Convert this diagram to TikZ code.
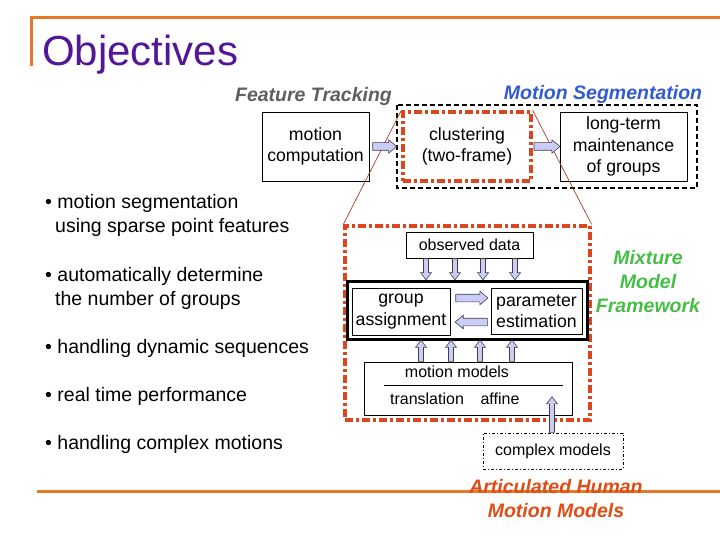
\documentclass[tikz,border=0pt]{standalone}
\usepackage{fontspec}
\setmainfont{Liberation Sans}
\usepackage{tikz}
\usetikzlibrary{shapes.arrows,arrows.meta,positioning,calc}
\definecolor{orangeTrait}{RGB}{230,120,40}
\definecolor{violetTitre}{RGB}{82,22,150}
\definecolor{grisFT}{RGB}{95,95,95}
\definecolor{bleuMS}{RGB}{50,90,210}
\definecolor{vertMM}{RGB}{70,190,70}
\definecolor{rougeAH}{RGB}{225,75,20}
\definecolor{rougeZoom}{RGB}{220,70,30}
\definecolor{rougeFil}{RGB}{170,60,40}
\definecolor{lavande}{RGB}{204,204,250}
\newcommand{\fsz}[2]{\fontsize{#1}{#2}\selectfont}

\begin{document}
\begin{tikzpicture}[x=1pt,y=-1pt,
  boite/.style={draw,line width=0.8pt,align=center,inner sep=0pt,font=\fsz{17.7}{21.5}},
  petit/.style={font=\fsz{16}{19}},
  puce/.style={align=left,inner sep=0pt,font=\fsz{19.5}{24}},
  titreItal/.style={align=center,inner sep=0pt,font=\fsz{19.5}{24}\bfseries\itshape},
  zoomRouge/.style={draw=rougeZoom,line width=3.3pt,dash pattern=on 8pt off 3pt on 3pt off 3pt},
  blockarrow/.style={single arrow,draw=black!75,fill=lavande,line width=0.6pt,
    inner xsep=0pt,inner ysep=3.5pt,single arrow head extend=3pt,
    single arrow tip angle=80,single arrow head indent=0pt},
  petiteFleche/.style={blockarrow/.append style={inner ysep=2.2pt,single arrow head extend=3pt,
    single arrow tip angle=75}},
  fleche/.style={to path={let \p1=(\tikztostart), \p2=(\tikztotarget),
    \n1={veclen(\x2-\x1,\y2-\y1)}, \n2={atan2(\y2-\y1,\x2-\x1)} in
    node[blockarrow,minimum height=\n1,rotate=\n2,anchor=tail] at (\p1) {} (\tikztotarget)}}]
  \useasboundingbox (0,0) rectangle (720,540);

  % Titre
  \draw[orangeTrait,line width=3pt] (31,66) -- (31,18) -- (720,18);
  \node[anchor=base west,inner sep=0pt,text=violetTitre,font=\fsz{42}{48}] (titre) at (42,66) {Objectives};
  \draw[orangeTrait,line width=3pt] (37,491) -- (720,491);

  % Objectifs (base = derniere ligne)
  \foreach \n/\y/\t in {1/233/{• motion segmentation\\\hspace*{10pt}using sparse point features},
                        2/305/{• automatically determine\\\hspace*{10pt}the number of groups},
                        3/353/{• handling dynamic sequences},
                        4/401/{• real time performance},
                        5/449/{• handling complex motions}}
    \node[puce,anchor=base west] (b\n) at (45,\y) {\t};

  % Chaine de traitement
  \node[titreItal,text=grisFT] (ft) at (313.5,96) {Feature Tracking};
  \node[titreItal,text=bleuMS] (ms) at (603,94) {Motion Segmentation};
  \draw[line width=1.4pt,dash pattern=on 5pt off 3pt] (397,105) rectangle (697,188);
  \node[boite,minimum width=107,minimum height=69] (mc) at (315.5,146.5) {motion\\computation};
  \node[boite,zoomRouge,minimum width=128,minimum height=69] (cl) at (467,146.5) {clustering\\(two-frame)};
  \node[boite,minimum width=127,minimum height=69] (lt) at (623.5,146.5) {long-term\\maintenance\\of groups};

  % Zoom
  \node[zoomRouge,minimum width=245,minimum height=194] (zoom) at (467.5,323) {};
  \draw[rougeFil,line width=0.7pt] (cl.north west) -- (zoom.north west)
                                   (cl.north east) -- (zoom.north east);
  \path[fleche] ([xshift=3]mc.east) to ([xshift=-5]cl.west);
  \path[fleche] ([xshift=1]cl.east) to (lt.west);

  % Modele de melange
  \node[boite,petit,minimum width=127,minimum height=26] (obs) at (469.5,245) {observed data};
  \node[draw,line width=3pt,minimum width=240,minimum height=58] (core) at (467,310) {};
  \node[boite,minimum width=98,minimum height=47] (ga) at (401,311.5) {group\\assignment};
  \node[boite,minimum width=91,minimum height=46] (pe) at (536.5,311.5) {parameter\\estimation};
  \path[fleche] ([xshift=5,yshift=13.5]ga.east) to ([xshift=-3,yshift=13.5]pe.west);
  \path[fleche] ([xshift=-3,yshift=-10.5]pe.west) to ([xshift=5,yshift=-10.5]ga.east);

  \node[draw,line width=0.8pt,minimum width=208,minimum height=53] (mm) at (468,388.5) {};
  \node[petit] (mmt) at (457,372) {motion models};
  \draw[line width=0.8pt] ($(mm.west)+(20,-3.5)$) -- ($(mm.east)+(-9,-3.5)$);
  \node[petit] (tr) at (427,399) {translation};
  \node[petit] (af) at (500,399) {affine};

  \begin{scope}[petiteFleche]
    \foreach \px in {426,455,483,515} {
      \coordinate (h\px) at (\px,0);
      \path[fleche] (obs.south -| h\px) to (core.north -| h\px);
    }
    \foreach \px in {421,451,480,512} {
      \coordinate (l\px) at (\px,0);
      \path[fleche] (mm.north -| l\px) to (core.south -| l\px);
    }
    \node[boite,petit,dash pattern=on 3pt off 2pt on 1pt off 2pt,line width=0.6pt,
          minimum width=140,minimum height=36] (cx) at (553,451) {complex models};
    \coordinate (cxtip) at (552,397);
    \path[fleche] (cx.north -| cxtip) to (cxtip);
  \end{scope}

  \node[titreItal,text=vertMM] (mix) at (648,282) {Mixture\\Model\\Framework};
  \node[titreItal,text=rougeAH] (art) at (556,499) {Articulated Human\\Motion Models};
\end{tikzpicture}
\end{document}
